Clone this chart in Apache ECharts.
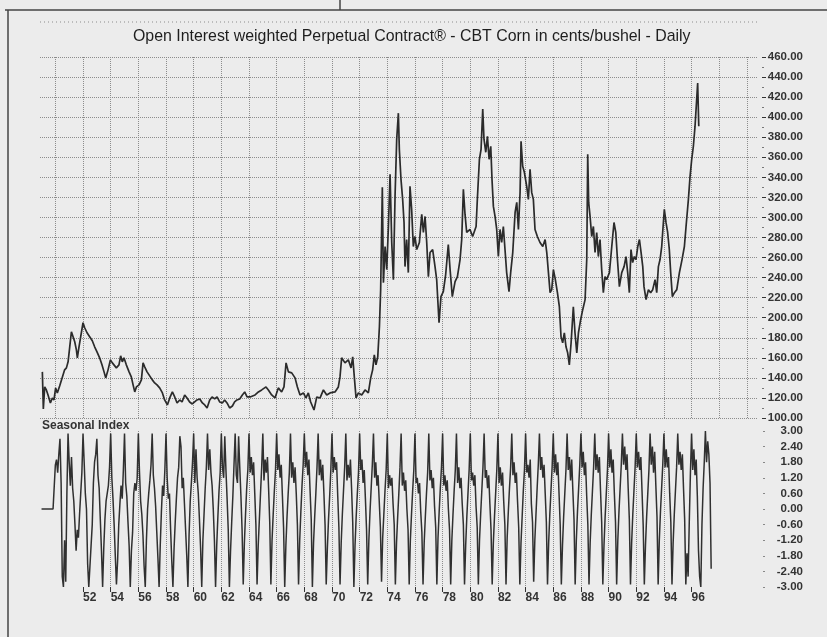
<!DOCTYPE html>
<html>
<head>
<meta charset="utf-8">
<script src="https://cdn.jsdelivr.net/npm/echarts@6/dist/echarts.min.js"></script>
<style>
html,body{margin:0;padding:0;background:#ececec;}
#chart{width:827px;height:637px;}
</style>
</head>
<body>
<div id="chart"></div>
<script>
var titleText = 'Open Interest weighted Perpetual Contract\u00ae - CBT Corn in cents/bushel - Daily';
var seasonalTitle = 'Seasonal Index';

// labels '52 .. '96
var labelYears = [1952,1954,1956,1958,1960,1962,1964,1966,1968,1970,1972,1974,1976,1978,1980,1982,1984,1986,1988,1990,1992,1994,1996];

// price, cents/bushel
var priceYears = [
1949.06,1949.13,1949.23,1949.35,1949.47,1949.64,1949.78,1949.90,1950.02,1950.14,1950.31,1950.51,1950.67,1950.80,1950.92,
1951.04,1951.16,1951.28,1951.40,1951.52,1951.59,1951.71,1951.83,1952.00,1952.12,1952.29,1952.48,1952.67,1952.84,
1953.01,1953.20,1953.37,1953.52,1953.64,1953.81,1953.98,1954.12,1954.24,1954.41,1954.60,1954.72,1954.84,1954.96,
1955.13,1955.33,1955.49,1955.62,1955.74,1955.86,1956.05,1956.22,1956.34,1956.46,1956.63,1956.82,
1957.01,1957.18,1957.35,1957.54,1957.74,1957.90,1958.10,1958.27,1958.46,1958.63,1958.80,1958.99,
1959.16,1959.35,1959.52,1959.71,1959.90,1960.07,1960.24,1960.44,1960.63,1960.80,1960.97,
1961.16,1961.33,1961.52,1961.69,1961.88,1962.07,1962.24,1962.41,1962.60,1962.80,1962.96,
1963.13,1963.33,1963.52,1963.69,1963.86,
1964.08,1964.44,1964.68,1964.92,1965.23,1965.40,1965.64,1965.88,1966.12,1966.36,1966.53,1966.68,1966.85,
1967.09,1967.33,1967.50,1967.69,1967.93,1968.12,1968.29,1968.46,1968.70,1968.90,1969.14,1969.38,1969.62,1969.86,
1970.22,1970.46,1970.58,1970.70,1970.94,1971.18,1971.38,1971.50,1971.62,1971.74,1971.91,
1972.15,1972.39,1972.63,1972.80,1972.94,1973.06,1973.18,1973.31,1973.43,1973.52,1973.64,1973.72,1973.84,1973.96,
1974.08,1974.20,1974.32,1974.44,1974.56,1974.68,1974.80,1974.87,1974.99,
1975.11,1975.21,1975.28,1975.40,1975.52,1975.64,1975.76,1975.88,1976.00,1976.13,1976.32,1976.49,1976.61,1976.73,1976.85,1976.97,
1977.09,1977.28,1977.45,1977.57,1977.74,1977.88,1978.05,1978.22,1978.41,1978.54,1978.70,1978.90,
1979.07,1979.26,1979.38,1979.50,1979.62,1979.74,1979.98,1980.17,
1980.42,1980.51,1980.66,1980.78,1980.90,1980.99,1981.12,1981.24,1981.36,1981.48,1981.57,1981.67,1981.79,1981.91,
1982.03,1982.15,1982.27,1982.39,1982.51,1982.63,1982.80,1982.92,1983.07,1983.24,1983.36,1983.48,1983.60,1983.67,1983.79,1983.91,
1984.08,1984.20,1984.32,1984.44,1984.56,1984.68,1984.85,1985.04,1985.24,1985.41,1985.53,1985.65,1985.77,1985.89,
1986.01,1986.15,1986.30,1986.44,1986.56,1986.68,1986.80,1986.92,1987.04,1987.16,1987.29,1987.45,1987.57,1987.70,1987.82,1987.98,
1988.13,1988.30,1988.42,1988.49,1988.56,1988.66,1988.78,1988.90,1989.02,1989.14,1989.26,1989.38,1989.50,1989.62,1989.74,1989.86,
1990.06,1990.23,1990.39,1990.52,1990.64,1990.78,1990.95,1991.12,1991.26,1991.38,1991.50,1991.62,1991.74,1991.86,1991.98,
1992.11,1992.23,1992.35,1992.47,1992.56,1992.71,1992.88,1993.04,1993.19,1993.36,1993.48,1993.60,1993.72,1993.84,1993.91,
1994.03,1994.15,1994.27,1994.39,1994.49,1994.61,1994.76,1994.93,1995.12,1995.31,1995.48,1995.60,1995.77,1995.89,
1996.01,1996.13,1996.25,1996.37,1996.44,1996.52
];
var priceValues = [
146,109,131,128,123,115,120,118,130,125,132,141,148,150,156,
171,186,181,176,168,160,171,181,195,190,185,181,177,171,
166,160,153,146,140,148,158,155,156,150,153,162,156,160,
153,146,141,133,126,131,133,138,155,151,146,142,
138,135,133,130,125,118,113,120,126,121,115,118,
116,123,120,116,114,116,118,119,115,113,110,
118,121,119,121,116,115,118,115,110,112,116,
118,119,123,126,121,
121,123,126,128,131,128,123,120,130,126,131,155,146,
145,140,131,123,125,120,125,116,108,121,120,128,123,125,
126,131,141,160,155,158,150,161,140,120,125,
123,128,125,140,148,163,153,161,191,228,330,235,271,248,
291,343,275,238,321,378,404,368,338,
318,295,251,278,245,331,308,271,281,268,275,303,285,301,275,241,
265,268,251,238,195,221,226,243,273,248,221,236,
241,258,278,328,303,285,288,281,
291,318,358,368,408,378,365,381,358,371,338,311,301,288,
261,288,275,291,268,245,226,245,265,305,315,288,325,376,351,345,
331,318,348,325,318,288,281,275,271,278,265,245,225,228,
248,238,225,211,181,175,185,171,165,153,175,211,185,165,185,198,
208,218,258,363,315,301,281,291,265,285,261,278,248,225,241,238,
245,271,295,285,258,231,245,251,261,245,225,268,255,261,258,
271,278,265,251,231,218,228,225,228,238,225,251,258,271,285,
308,295,285,268,245,221,225,228,245,258,271,291,318,341,
358,371,391,418,434,391
];

// seasonal index, monthly from Jan 1949 (one row per year)
var seasonalStart = 1949;
var seasonalValues = [
0,0,0,0,0,0,0,0,0,0,0,0,
1.7,1.9,1.4,2.1,2.7,1.0,-2.6,-3.0,-1.2,-2.8,0.6,2.9,
1.8,0.9,2.0,0.8,0.3,-0.6,-1.6,-0.8,-1.1,-0.2,0.6,1.4,
2.9,1.8,0.6,0.0,-2.1,-3.0,-2.2,-1.4,-0.6,1.0,1.8,2.1,
2.7,1.3,0.8,-0.4,-1.6,-3.0,-1.5,-0.4,0.3,0.6,0.9,1.6,
2.9,1.2,0.4,-0.6,-1.8,-2.9,-2.0,-0.6,0.2,0.9,0.4,1.5,
2.9,1.0,0.5,-0.5,-1.4,-3.0,-1.6,-0.9,0.6,1.0,0.7,1.2,
2.9,1.4,0.3,-0.2,-1.0,-2.2,-3.0,-1.2,0.0,0.6,1.1,1.7,
2.9,1.3,0.8,0.1,-0.9,-1.9,-3.0,-1.4,-0.1,0.9,0.5,1.5,
2.9,1.2,0.4,0.6,-0.8,-2.0,-3.0,-1.5,-0.5,0.4,1.2,1.6,
2.8,2.4,0.8,1.2,0.2,-0.8,-1.8,-3.0,-1.0,0.3,1.0,1.8,
2.9,1.0,2.3,1.2,0.6,-0.4,-1.5,-3.0,-1.2,-0.2,0.8,1.6,
2.9,1.5,2.3,1.4,0.9,0.0,-1.2,-3.0,-1.4,-0.3,0.7,1.4,
2.9,1.6,1.2,2.8,1.5,0.4,-0.8,-3.0,-1.6,-0.5,0.5,1.7,
2.9,1.3,1.0,2.8,1.6,0.5,-0.8,-2.9,-1.3,-0.2,0.8,1.5,
2.9,1.4,2.0,1.3,1.8,0.6,-0.6,-2.9,-1.4,-0.4,0.6,1.6,
2.9,1.1,1.9,1.4,2.0,0.8,-0.5,-2.9,-1.2,-0.2,0.7,1.5,
2.9,1.5,2.1,1.2,1.7,0.5,-0.7,-3.0,-1.4,-0.3,0.6,1.4,
2.9,1.2,1.8,1.0,1.6,0.6,-0.6,-2.9,-1.2,-0.1,0.9,1.7,
2.9,1.6,2.2,1.3,1.9,0.7,-0.4,-3.0,-1.3,-0.3,0.6,1.6,
2.9,1.3,1.9,1.1,1.7,0.6,-0.6,-2.9,-1.5,-0.4,0.5,1.5,
2.9,1.4,2.0,1.5,1.8,0.5,-0.7,-2.9,-1.3,-0.2,0.7,1.6,
2.9,1.1,1.7,1.2,1.9,0.8,-0.5,-3.0,-1.4,-0.3,0.6,1.4,
2.9,1.5,1.9,1.0,1.5,0.4,-0.8,-2.9,-1.2,-0.1,0.8,1.7,
2.9,1.2,1.8,0.9,1.3,0.3,-0.7,-2.8,-1.1,-0.2,0.7,1.5,
2.9,0.8,1.3,0.9,1.2,0.2,-0.6,-2.9,-1.3,-0.3,0.6,1.6,
2.9,0.9,1.4,0.7,1.1,0.0,-0.8,-2.9,-1.2,-0.2,0.7,1.5,
2.9,1.0,1.2,0.6,1.0,-0.1,-0.9,-2.9,-1.3,-0.3,0.6,1.4,
2.9,1.1,1.5,0.8,1.2,0.1,-0.7,-2.9,-1.1,-0.1,0.8,1.6,
2.9,0.9,1.3,0.7,1.1,0.0,-0.8,-2.9,-1.2,-0.2,0.7,1.5,
2.9,1.0,1.6,0.8,1.2,0.2,-0.6,-2.9,-1.4,-0.3,0.6,1.5,
2.9,1.1,1.4,0.9,1.3,0.1,-0.7,-2.9,-1.2,-0.2,0.7,1.6,
2.9,1.2,1.5,0.8,1.3,0.2,-0.8,-2.9,-1.3,-0.3,0.6,1.5,
2.9,1.0,1.6,0.9,1.4,0.3,-0.6,-2.9,-1.1,-0.1,0.8,1.6,
2.9,1.3,1.8,1.0,1.4,0.3,-0.7,-2.9,-1.3,-0.3,0.7,1.5,
2.9,1.4,1.7,1.2,1.9,0.2,-0.5,-2.8,-1.2,-0.2,0.8,1.7,
2.9,1.5,2.0,1.2,1.7,0.6,-0.5,-2.9,-1.3,-0.2,0.7,1.6,
2.9,1.4,2.1,1.3,1.8,0.6,-0.6,-2.9,-1.4,-0.3,0.6,1.5,
2.9,1.5,2.0,1.1,1.9,0.7,-0.4,-2.9,-1.2,-0.1,0.8,1.7,
2.9,1.6,2.2,1.3,1.8,0.5,-0.6,-2.9,-1.3,-0.2,0.7,1.6,
2.9,1.5,2.1,1.4,2.0,0.7,-0.5,-2.9,-1.4,-0.3,0.6,1.5,
2.9,1.6,2.3,1.4,1.9,0.6,-0.5,-2.9,-1.2,-0.1,0.8,1.7,
2.9,1.7,2.4,1.5,2.1,0.8,-0.4,-2.9,-1.3,-0.2,0.7,1.6,
2.9,1.6,2.2,1.5,2.0,0.7,-0.6,-2.9,-1.4,-0.3,0.6,1.5,
2.9,1.7,2.4,1.4,2.2,0.9,-0.3,-2.9,-1.2,-0.1,0.8,1.7,
2.9,1.6,2.3,1.6,2.0,0.6,-0.5,-2.9,-1.3,-0.2,0.7,1.6,
2.9,1.7,2.2,1.5,2.1,0.8,-0.4,-2.9,-1.7,-2.6,-0.5,1.4,
2.9,1.5,2.3,1.3,1.9,0.5,-1.6,-2.6,-3.0,-0.6,0.8,1.8,
3.0,1.8,2.6,2.1,1.0,-2.3
];

var priceData = [];
for (var i = 0; i < priceYears.length; i++) {
	priceData.push([priceYears[i], priceValues[i]]);
}
var seasonalData = [];
for (var k = 0; k < seasonalValues.length; k++) {
	seasonalData.push([seasonalStart + k / 12, seasonalValues[k]]);
}

// x scale: '52 sits at x=83, 13.83px per year -> 1948 at x=27.7, right edge x=757
var xMin = 1948, xMax = 2000.73;
var plotL = 27.7;
var ink = '#333';
var fontFam = 'Liberation Sans, Arial, sans-serif';
var dotted = { type: 'dotted', color: '#8c8c8c', width: 1 };
var vGrid = { show: true, showMinLine: false, showMaxLine: false, lineStyle: dotted };

var chart = echarts.init(document.getElementById('chart'));
chart.setOption({
	backgroundColor: '#ececec',
	animation: false,
	title: [{
		text: titleText,
		left: 128,
		top: 24,
		textStyle: { fontFamily: fontFam, fontSize: 15.9, fontWeight: 'normal', color: '#1e1e1e' }
	}, {
		text: seasonalTitle,
		left: 37,
		top: 415,
		textStyle: { fontFamily: fontFam, fontSize: 12, fontWeight: 'bold', color: ink }
	}],
	grid: [
		// price panel (years), price axis panel (horizontal lines start at x=40), seasonal panel
		{ left: plotL, right: 70, top: 57, height: 361 },
		{ left: 40, right: 70, top: 57, height: 361 },
		{ left: plotL, right: 70, top: 431, height: 156 }
	],
	xAxis: [{
		type: 'value', gridIndex: 0, min: xMin, max: xMax, interval: 2,
		axisLine: { show: false, onZero: false },
		axisTick: { show: false },
		axisLabel: { show: false },
		splitLine: vGrid
	}, {
		type: 'value', gridIndex: 1, show: false, min: 1, max: 2,
		axisLine: { onZero: false },
		splitLine: { show: false }
	}, {
		type: 'value', gridIndex: 2, min: xMin, max: xMax, interval: 2,
		axisLine: { show: false, onZero: false },
		axisTick: { show: true, customValues: labelYears, length: 5, lineStyle: { color: ink } },
		axisLabel: {
			customValues: labelYears,
			formatter: function (v) { return String(Math.round(v)).slice(2); },
			align: 'left', margin: 5, fontSize: 12,
			fontFamily: fontFam, fontWeight: 'bold', color: ink
		},
		splitLine: vGrid
	}],
	yAxis: [{
		type: 'value', gridIndex: 0, show: false, min: 100, max: 460,
		axisLine: { onZero: false },
		splitLine: { show: false }
	}, {
		type: 'value', gridIndex: 1, position: 'right', offset: 5,
		min: 100, max: 460, interval: 20,
		axisLine: { show: false, onZero: false },
		axisTick: { show: true, length: 4, lineStyle: { color: ink } },
		minorTick: { show: true, splitNumber: 2, length: 2, lineStyle: { color: '#777' } },
		axisLabel: {
			align: 'right', margin: 41, fontSize: 11.5,
			fontFamily: fontFam, fontWeight: 'bold', color: ink,
			formatter: function (v) { return v.toFixed(2); }
		},
		splitLine: { show: true, lineStyle: dotted }
	}, {
		type: 'value', gridIndex: 2, position: 'right', offset: 6,
		min: -3, max: 3, interval: 0.6,
		axisLine: { show: false, onZero: false },
		axisTick: { show: true, length: 2, lineStyle: { color: '#888' } },
		axisLabel: {
			align: 'right', margin: 40, fontSize: 11.5,
			fontFamily: fontFam, fontWeight: 'bold', color: ink,
			formatter: function (v) { return Math.abs(v) < 1e-9 ? '0.00' : v.toFixed(2); }
		},
		splitLine: { show: false }
	}],
	series: [{
		type: 'line', xAxisIndex: 0, yAxisIndex: 0,
		data: priceData, showSymbol: false,
		lineStyle: { color: '#2b2b2b', width: 1.7 }
	}, {
		type: 'line', xAxisIndex: 2, yAxisIndex: 2,
		data: seasonalData, showSymbol: false,
		lineStyle: { color: '#303030', width: 1.5 }
	}],
	graphic: [
		{ type: 'line', shape: { x1: 5, y1: 10, x2: 827, y2: 10 }, style: { stroke: '#444', lineWidth: 1.5 } },
		{ type: 'line', shape: { x1: 8, y1: 10, x2: 8, y2: 637 }, style: { stroke: '#444', lineWidth: 1.5 } },
		{ type: 'line', shape: { x1: 340, y1: 0, x2: 340, y2: 10 }, style: { stroke: '#444', lineWidth: 1.5 } },
		{ type: 'line', shape: { x1: 40, y1: 22, x2: 757, y2: 22 }, style: { stroke: '#8c8c8c', lineWidth: 1, lineDash: [1, 3] } }
	]
});
</script>
</body>
</html>
